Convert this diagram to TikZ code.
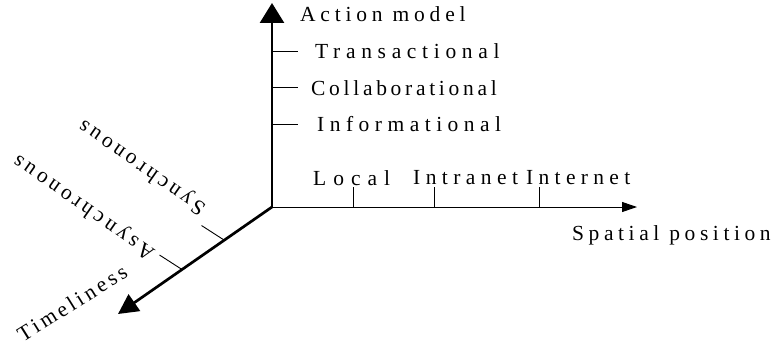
\documentclass[tikz,border=0pt]{standalone}
\usepackage{fontspec}
\setmainfont{Liberation Serif}
\usetikzlibrary{arrows.meta}
\begin{document}
\begin{tikzpicture}[x=1pt,y=-1pt,
  spaced/.style={font=\fontsize{21.5}{25}\selectfont\addfontfeature{LetterSpace=#1}, inner sep=0pt},
  lbl/.style={spaced=#1, anchor=base west},
  rlbl/.style={spaced=#1, anchor=west},
  thickaxis/.style={line width=2.7pt},
  thinaxis/.style={line width=1pt},
  tickmark/.style={line width=0.9pt}]
\useasboundingbox (0,0) rectangle (783,345);

% axes meeting at the origin
\coordinate (O) at (272,207);
\coordinate (vtop) at (272,3);
\coordinate (htip) at (637,207);
\coordinate (ttip) at (118,314);

\draw[thickaxis, -{Triangle[length=20pt,width=24pt]}] (O) -- (vtop);
\draw[thinaxis, -{Triangle[length=15pt,width=10pt]}] (O) -- (htip);
\draw[thickaxis, -{Triangle[length=20pt,width=20pt]}] (O) -- (ttip);

% ticks on the action-model axis
\coordinate (v1) at (272,51);  \coordinate (v1e) at (298,51);
\coordinate (v2) at (272,87);  \coordinate (v2e) at (298,87);
\coordinate (v3) at (272,124); \coordinate (v3e) at (298,124);
\draw[tickmark] (v1) -- (v1e) (v2) -- (v2e) (v3) -- (v3e);

% ticks on the spatial axis
\coordinate (h1) at (353,207); \coordinate (h1e) at (353,187);
\coordinate (h2) at (434,207); \coordinate (h2e) at (434,187);
\coordinate (h3) at (539,207); \coordinate (h3e) at (539,187);
\draw[tickmark] (h1) -- (h1e) (h2) -- (h2e) (h3) -- (h3e);

% ticks on the timeliness axis
\coordinate (t1) at (224,240);   \coordinate (t1e) at (201.5,225.5);
\coordinate (t2) at (182,269.5); \coordinate (t2e) at (159.5,255);
\draw[tickmark] (t1) -- (t1e) (t2) -- (t2e);

% labels
\node[lbl=22.2] (action) at (300,22) {Action model};
\node[lbl=26.4] (trans) at (315,58) {Transactional};
\node[lbl=17.2] (collab) at (311,95) {Collaborational};
\node[lbl=25.5] (inform) at (317,131) {Informational};
\node[lbl=32.6] (local) at (313,185) {Local};
\node[lbl=25.3] (intra) at (413,184) {Intranet};
\node[lbl=24.7] (inter) at (526,184) {Internet};
\node[lbl=21.3] (spatial) at (572,240) {Spatial position};
\node[rlbl=17.5, rotate=145] (sync) at (204,210) {Synchronous};
\node[rlbl=18.3, rotate=145] (async) at (153,255) {Asynchronous};
\node[rlbl=16.2, rotate=32] (time) at (19,336) {Timeliness};
\end{tikzpicture}
\end{document}
